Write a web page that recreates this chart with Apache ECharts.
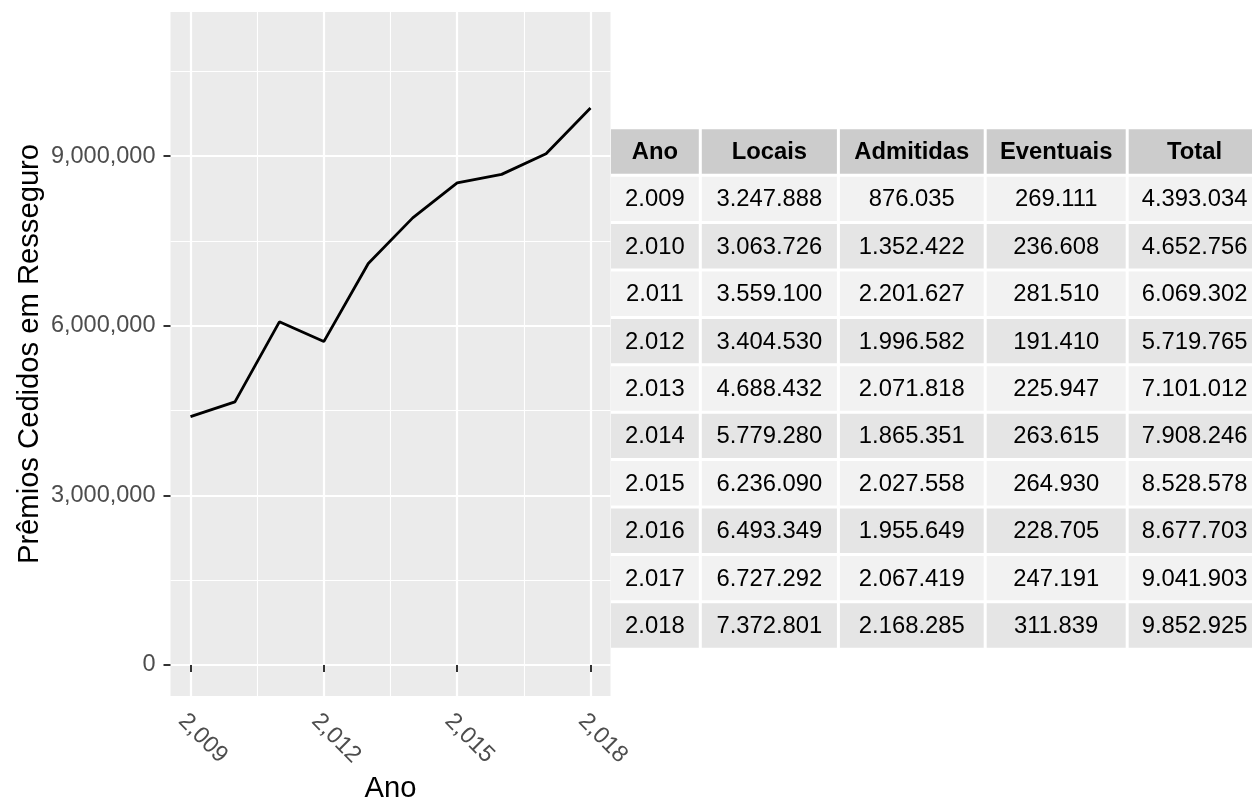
<!DOCTYPE html>
<html>
<head>
<meta charset="utf-8">
<script src="https://cdn.jsdelivr.net/npm/echarts@6/dist/echarts.min.js"></script>
<style>
  html, body { margin: 0; padding: 0; background: #fff; }
  #chart { width: 1252px; height: 798px; }
</style>
</head>
<body>
<div id="chart"></div>
<script>
const years = [2009, 2010, 2011, 2012, 2013, 2014, 2015, 2016, 2017, 2018]
const locais = [3247888, 3063726, 3559100, 3404530, 4688432, 5779280, 6236090, 6493349, 6727292, 7372801]
const admitidas = [876035, 1352422, 2201627, 1996582, 2071818, 1865351, 2027558, 1955649, 2067419, 2168285]
const eventuais = [269111, 236608, 281510, 191410, 225947, 263615, 264930, 228705, 247191, 311839]
const totals = [4393034, 4652756, 6069302, 5719765, 7101012, 7908246, 8528578, 8677703, 9041903, 9852925]
const tableHeaders = ['Ano', 'Locais', 'Admitidas', 'Eventuais', 'Total']

const xMajorTicks = [2009, 2012, 2015, 2018]
const xMinorTicks = [2010.5, 2013.5, 2016.5]
const yMajorTicks = [0, 3000000, 6000000, 9000000]
const yMinorTicks = [1500000, 4500000, 7500000, 10500000]

// table layout (px widths of each column band)
const colWidths = [90.8, 138.1, 146.8, 142, 134.8]
const colEdges = [0]
colWidths.forEach((w, i) => colEdges.push(colEdges[i] + w))

const FONT = "'Liberation Sans', Arial, Helvetica, sans-serif"

const comma = (v) => String(Math.round(v)).replace(/\B(?=(\d{3})+(?!\d))/g, ',')
const dots = (v) => String(Math.round(v)).replace(/\B(?=(\d{3})+(?!\d))/g, '.')

// cells: [col, row, text, isHeader]
const cells = []
tableHeaders.forEach((h, c) => cells.push([c, 0, h, 1]))
years.forEach((y, i) => {
  const row = [y, locais[i], admitidas[i], eventuais[i], totals[i]]
  row.forEach((v, c) => cells.push([c, i + 1, dots(v), 0]))
})

const chart = echarts.init(document.getElementById('chart'), null, { renderer: 'canvas' })

const plotLeft = 170.5, plotTop = 12, plotW = 440, plotH = 684

const option = {
  animation: false,
  backgroundColor: '#ffffff',
  grid: [
    {
      left: plotLeft, top: plotTop, width: plotW, height: plotH,
      show: true, backgroundColor: '#EBEBEB', borderWidth: 0,
      containLabel: false, outerBoundsMode: 'none'
    },
    {
      left: 609.5, top: 127.8, width: colEdges[colEdges.length - 1], height: 47.4 * 11,
      show: false, containLabel: false, outerBoundsMode: 'none'
    }
  ],
  xAxis: [
    {
      type: 'value', gridIndex: 0, min: 2008.55, max: 2018.45,
      name: 'Ano', nameLocation: 'middle', nameGap: 76,
      nameTextStyle: { fontFamily: FONT, fontSize: 29.2, color: '#000' },
      axisLine: { show: false },
      axisTick: { show: true, length: 7, customValues: xMajorTicks, lineStyle: { color: '#333333', width: 2 } },
      axisLabel: {
        customValues: xMajorTicks, rotate: -45, margin: 13,
        align: 'left', verticalAlign: 'top',
        fontFamily: FONT, fontSize: 23.5, color: '#4D4D4D',
        formatter: (v) => comma(v)
      },
      splitLine: { show: true, lineStyle: { color: '#ffffff', width: 2.2 } }
    },
    {
      type: 'value', gridIndex: 0, min: 2008.55, max: 2018.45,
      axisLine: { show: false },
      axisTick: { show: false, customValues: xMinorTicks },
      axisLabel: { show: false, customValues: xMinorTicks },
      splitLine: { show: true, lineStyle: { color: '#ffffff', width: 1.1 } }
    },
    {
      type: 'value', gridIndex: 1, min: 0, max: colEdges[colEdges.length - 1], show: false
    }
  ],
  yAxis: [
    {
      type: 'value', gridIndex: 0, min: -550000, max: 11550000,
      name: 'Prêmios Cedidos em Resseguro', nameLocation: 'middle', nameGap: 126,
      nameTextStyle: { fontFamily: FONT, fontSize: 29.2, color: '#000' },
      axisLine: { show: false },
      axisTick: { show: true, length: 7, customValues: yMajorTicks, lineStyle: { color: '#333333', width: 2 } },
      axisLabel: {
        customValues: yMajorTicks, margin: 15,
        fontFamily: FONT, fontSize: 23.5, color: '#4D4D4D',
        formatter: (v) => comma(v)
      },
      splitLine: { show: true, lineStyle: { color: '#ffffff', width: 2.2 } }
    },
    {
      type: 'value', gridIndex: 0, min: -550000, max: 11550000, position: 'left',
      axisLine: { show: false },
      axisTick: { show: false, customValues: yMinorTicks },
      axisLabel: { show: false, customValues: yMinorTicks },
      splitLine: { show: true, lineStyle: { color: '#ffffff', width: 1.1 } }
    },
    {
      type: 'category', gridIndex: 1, inverse: true, show: false,
      data: ['header'].concat(years.map(String))
    }
  ],
  series: [
    {
      type: 'line', xAxisIndex: 0, yAxisIndex: 0,
      data: years.map((y, i) => [y, totals[i]]),
      showSymbol: false, symbol: 'none',
      lineStyle: { color: '#000000', width: 2.8 },
      z: 5
    },
    {
      type: 'custom', xAxisIndex: 2, yAxisIndex: 2,
      data: cells.map((c) => [c[0], c[1]]),
      z: 10,
      renderItem: (params, api) => {
        const cell = cells[params.dataIndex]
        const col = cell[0], row = cell[1]
        const a = api.coord([colEdges[col], row])
        const b = api.coord([colEdges[col + 1], row])
        const h = api.size([0, 1])[1]
        const g = 1.5
        let fill = '#CCCCCC'
        if (!cell[3]) fill = row % 2 === 1 ? '#F2F2F2' : '#E5E5E5'
        return {
          type: 'group',
          children: [
            {
              type: 'rect',
              shape: { x: a[0] + g, y: a[1] - h / 2 + g, width: b[0] - a[0] - 2 * g, height: h - 2 * g },
              style: { fill: fill }
            },
            {
              type: 'text',
              style: {
                text: cell[2], x: (a[0] + b[0]) / 2, y: a[1] + 1,
                align: 'center', verticalAlign: 'middle',
                fontFamily: FONT, fontSize: 23.8, fontWeight: cell[3] ? 'bold' : 'normal',
                fill: '#000000'
              }
            }
          ]
        }
      }
    }
  ]
}

chart.setOption(option)
</script>
</body>
</html>
